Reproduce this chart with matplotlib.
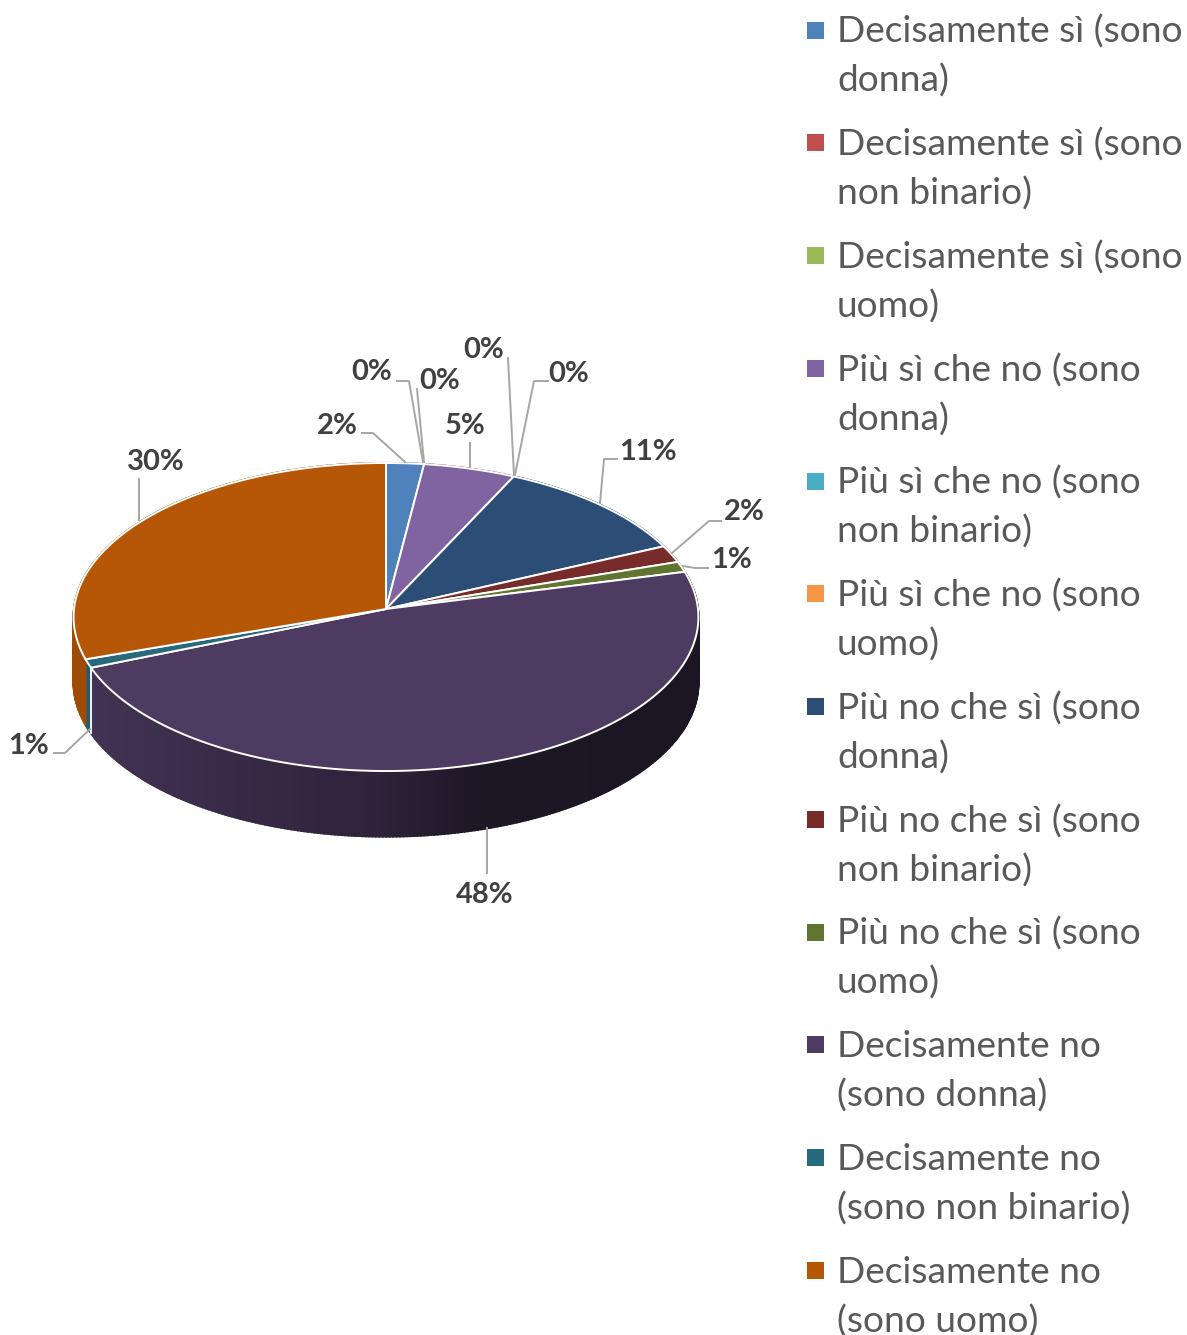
import numpy as np
import matplotlib
matplotlib.use('Agg')
import matplotlib.pyplot as plt
from matplotlib.colors import to_rgb

categories = ['Decisamente sì (sono\ndonna)', 'Decisamente sì (sono\nnon binario)',
              'Decisamente sì (sono\nuomo)', 'Più sì che no (sono\ndonna)',
              'Più sì che no (sono\nnon binario)', 'Più sì che no (sono\nuomo)',
              'Più no che sì (sono\ndonna)', 'Più no che sì (sono\nnon binario)',
              'Più no che sì (sono\nuomo)', 'Decisamente no\n(sono donna)',
              'Decisamente no\n(sono non binario)', 'Decisamente no\n(sono uomo)']
values = [2.05, 0, 0, 5.0, 0, 0, 11.1, 1.8, 1.1, 47.8, 0.9, 30.2]
colors = ['#4F81BD', '#C0504D', '#9BBB59', '#8064A2', '#4BACC6', '#F79646',
          '#2C4D75', '#772C2A', '#5F7530', '#4D3B62', '#276A7C', '#B65708']

# label centre, then the leader line, same order as values
label_pos = [(337, 426), (372, 372), (440, 381), (465, 426), (484, 350), (569, 374),
             (648, 452), (744, 512), (732, 560), (485, 895), (29, 746), (156, 462)]
leaders = [[(362, 433), (373, 433), (405, 462)],
           [(397, 381), (409, 381), (423, 462)],
           [(417, 389), (424, 462)],
           [(470, 443), (470, 467)],
           [(508, 358), (514, 475)],
           [(548, 381), (534, 381), (515, 475)],
           [(617, 459), (604, 459), (600, 503)],
           [(721, 521), (709, 521), (672, 553)],
           [(708, 568), (695, 568), (683, 566)],
           [(487, 828), (487, 873)],
           [(54, 753), (65, 753), (90, 729)],
           [(139, 479), (139, 520)]]

W, H = 1187, 1335
cx, cy = 386, 609
R, S, k = 312, 153.6, 0.052   # perspective of the disc
depth = 65.5


def disc(theta):
    u, v = np.sin(theta), -np.cos(theta)
    w = 1 - k * v
    return cx + R * u / w, cy + S * v / w


fig = plt.figure(figsize=(W / 100, H / 100), dpi=100)
ax = fig.add_axes([0, 0, 1, 1])
ax.set_xlim(0, W)
ax.set_ylim(H, 0)
ax.axis('off')

edges = np.cumsum([0] + values) / sum(values) * 2 * np.pi

# side wall first, the top covers the back half
for i, col in enumerate(colors):
    if values[i] == 0:
        continue
    base = np.array(to_rgb(col))
    th = np.linspace(edges[i], edges[i + 1], max(int(values[i] * 6), 2) + 1)
    xs, ys = disc(th)
    for j in range(len(th) - 1):
        shade = np.interp((xs[j] + xs[j + 1]) / 2, [85, 386, 480, 698], [0.86, 0.58, 0.38, 0.36])
        if col != '#4D3B62':
            shade = 0.86
        c = base * shade
        ax.fill([xs[j], xs[j + 1], xs[j + 1], xs[j]],
                [ys[j], ys[j + 1], ys[j + 1] + depth, ys[j] + depth],
                color=c, lw=1.5, zorder=1)

# white seam on the wall around the teal slice
for e in edges[10:11]:
    x0, y0 = disc(e)
    ax.plot([x0, x0], [y0, y0 + depth], color='white', lw=1.3, zorder=2)

for i, col in enumerate(colors):
    if values[i] == 0:
        continue
    th = np.linspace(edges[i], edges[i + 1], 120)
    xs, ys = disc(th)
    ax.fill(np.r_[cx, xs], np.r_[cy, ys], facecolor=col, edgecolor='white',
            lw=1.4, joinstyle='round', zorder=3)

for i, v in enumerate(values):
    pts = np.array(leaders[i])
    ax.plot(pts[:, 0], pts[:, 1], color='#a6a6a6', lw=1.4, zorder=4)
    ax.text(label_pos[i][0], label_pos[i][1], '%d%%' % round(v), family='Lato', weight='bold',
            fontsize=21, color='#404040', ha='center', va='center', zorder=5)

# legend by hand, two line entries with the marker on the first line
for i, cat in enumerate(categories):
    y = 30 + i * 112.75
    ax.fill([807, 824, 824, 807], [y - 8.5, y - 8.5, y + 8.5, y + 8.5], color=colors[i], lw=0)
    for n, line in enumerate(cat.split('\n')):
        ax.text(837, y + 2 + n * 49, line, family='Lato', fontsize=26.7, color='#595959',
                ha='left', va='center', clip_on=False)

fig.savefig('out.png', dpi=100)
